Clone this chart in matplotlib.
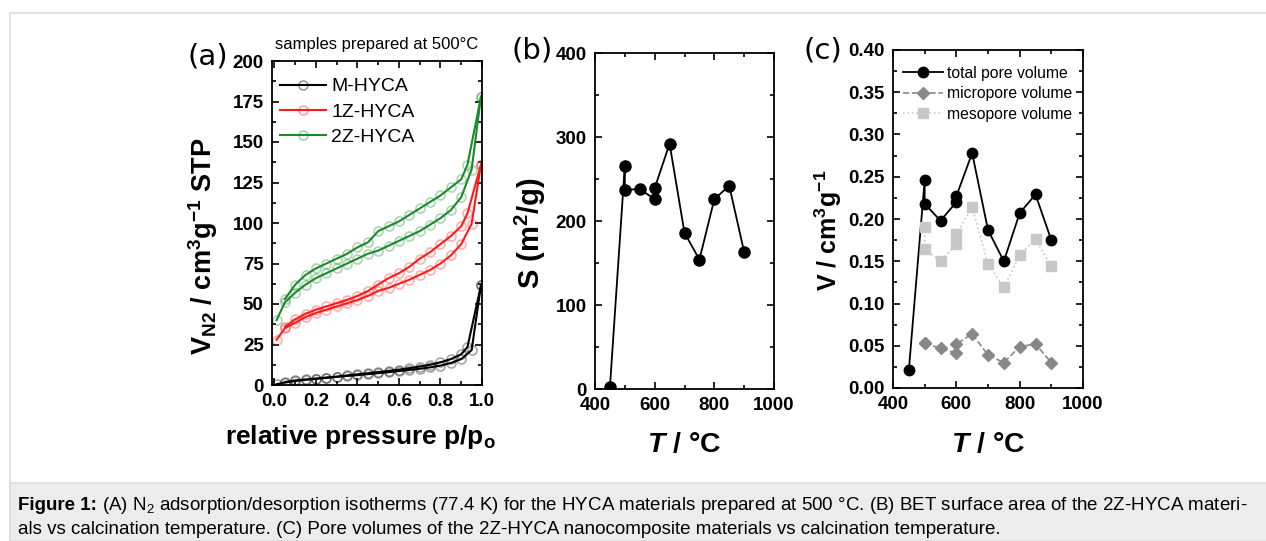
import numpy as np
import matplotlib
matplotlib.use('Agg')
from matplotlib import pyplot as plt
from matplotlib.patches import Rectangle
from matplotlib.ticker import MultipleLocator, FormatStrFormatter

plt.rcParams['font.family'] = ['Liberation Sans', 'DejaVu Sans']
plt.rcParams['mathtext.fontset'] = 'custom'
plt.rcParams['mathtext.rm'] = 'Liberation Sans'
plt.rcParams['mathtext.bf'] = 'Liberation Sans:bold'
plt.rcParams['mathtext.it'] = 'Liberation Sans:bold:italic'
plt.rcParams['mathtext.default'] = 'bf'

# (a) isotherms, adsorption and desorption branches
p_ads = [0.01, 0.05, 0.1, 0.15, 0.2, 0.25, 0.3, 0.35, 0.4, 0.45, 0.5,
         0.55, 0.6, 0.65, 0.7, 0.75, 0.8, 0.85, 0.9, 0.95, 0.995]
p_des = [0.995, 0.93, 0.9, 0.85, 0.8, 0.75, 0.7, 0.65, 0.6, 0.55, 0.5,
         0.45, 0.4, 0.35, 0.3, 0.25, 0.2, 0.15, 0.1, 0.05]

m_ads = [0.5, 1.5, 2.5, 3.2, 3.8, 4.4, 5.0, 5.6, 6.1, 6.7, 7.3,
         7.9, 8.6, 9.3, 10.0, 10.9, 12.0, 13.6, 16.0, 21.5, 61.5]
m_des = [61.5, 23.5, 19.0, 16.0, 14.0, 12.5, 11.4, 10.4, 9.5, 8.7, 8.0,
         7.3, 6.6, 5.9, 5.2, 4.6, 4.0, 3.4, 2.8, 1.8]

z1_ads = [28, 35, 38.5, 42, 44.5, 46.5, 48.5, 50.5, 52.5, 55, 58,
          60, 62.5, 65, 68, 71, 75, 80, 87, 99.5, 136]
z1_des = [136, 106, 98, 92, 87, 82, 78, 73, 69, 66, 62,
          58, 55, 52.5, 50.5, 48.5, 46.5, 44, 40.5, 36]

z2_ads = [40, 51, 57, 62, 66, 69, 72, 75, 78, 81, 83,
          86, 89, 92, 95, 99, 103, 108, 116, 133, 178]
z2_des = [178, 136, 127, 122, 117, 113, 109, 105, 101, 98, 95,
          88, 85, 81, 78, 75, 72, 68, 62, 53]

# (b) BET surface area
T_S = [450, 500, 500, 550, 600, 600, 650, 700, 750, 800, 850, 900]
S = [2, 266, 237, 238, 226, 239, 292, 186, 154, 226, 242, 163]

# (c) pore volumes
T_tot = [450, 500, 500, 550, 600, 600, 650, 700, 750, 800, 850, 900]
V_tot = [0.021, 0.246, 0.218, 0.198, 0.220, 0.227, 0.278, 0.187, 0.150, 0.207, 0.229, 0.175]
T_pore = [500, 500, 550, 600, 600, 650, 700, 750, 800, 850, 900]
V_micro = [0.053, 0.053, 0.047, 0.041, 0.052, 0.064, 0.039, 0.030, 0.049, 0.052, 0.030]
V_meso = [0.191, 0.164, 0.150, 0.170, 0.182, 0.214, 0.147, 0.119, 0.157, 0.176, 0.144]

W, H = 1266, 541
fig = plt.figure(figsize=(W / 100, H / 100), dpi=100)


def px_axes(l, t, r, b):
    return fig.add_axes([l / W, 1 - b / H, (r - l) / W, (b - t) / H])


def style(ax):
    ax.tick_params(which='both', direction='in', top=True, right=True,
                   width=1.2, labelsize=13.5, pad=6)
    ax.tick_params(which='major', length=5)
    ax.tick_params(which='minor', length=3)
    for s in ax.spines.values():
        s.set_linewidth(1.3)
    for lab in ax.get_xticklabels() + ax.get_yticklabels():
        lab.set_fontweight('bold')


def place_labels(ax, xl, yl):
    ax.xaxis.label.set_va('center')
    ax.yaxis.label.set_va('center')
    ax.xaxis.set_label_coords(*xl)
    ax.yaxis.set_label_coords(*yl)


# frame and caption box
fig.patches.append(Rectangle((10 / W, 0), 1.2, 1 - 13 / H, transform=fig.transFigure,
                             fill=False, edgecolor='#dddddd', linewidth=1.2))
fig.patches.append(Rectangle((10 / W, 0), 1.2, 58 / H, transform=fig.transFigure,
                             facecolor='#ececec', edgecolor='#dddddd', linewidth=1.2))

# ---- (a)
ax1 = px_axes(272, 61, 482, 385)
mk = dict(marker='o', mfc='none', ms=6.5, mew=1.2, lw=1.5)
for ads, des, c, name in [(m_ads, m_des, 'black', 'M-HYCA'),
                          (z1_ads, z1_des, '#ff1a1a', '1Z-HYCA'),
                          (z2_ads, z2_des, '#1a8a2a', '2Z-HYCA')]:
    ax1.plot(p_ads, ads, color=c, lw=1.5)
    ax1.plot(p_des, des, color=c, lw=1.5)
    ax1.plot(p_ads, ads, ls='none', color=c, alpha=0.35, **mk)
    ax1.plot(p_des, des, ls='none', color=c, alpha=0.35, **mk)
    ax1.plot([], [], color=c, marker='o', mfc='none', ms=6.5, mew=1.0,
             mec=matplotlib.colors.to_rgba(c, 0.45), lw=1.5, label=name)
ax1.set_xlim(-0.012, 1.0)
ax1.set_ylim(0, 200)
ax1.xaxis.set_major_locator(MultipleLocator(0.2))
ax1.xaxis.set_minor_locator(MultipleLocator(0.1))
ax1.yaxis.set_major_locator(MultipleLocator(25))
ax1.yaxis.set_minor_locator(MultipleLocator(12.5))
ax1.xaxis.set_major_formatter(FormatStrFormatter('%.1f'))
style(ax1)
ax1.legend(loc='upper left', bbox_to_anchor=(0.0, 1 - 9 / 324), borderaxespad=0,
           frameon=False, fontsize=14, handlelength=2.4,
           handletextpad=0.26, labelspacing=0.4)
ax1.set_xlabel(r'relative pressure p/p$_\mathbf{o}$', fontsize=19, fontweight='bold')
ax1.set_ylabel(r'V$_{N2}$ / cm$^3$g$^{-1}$ STP', fontsize=19.5, fontweight='bold')
place_labels(ax1, (0.419, -0.160), (-0.329, 0.429))
fig.text(377 / W, 1 - 44 / H, 'samples prepared at 500°C', fontsize=12,
         ha='center', va='center')

# ---- (b)
ax2 = px_axes(595, 53, 774, 389)
ax2.plot(T_S, S, color='black', marker='o', ms=8, lw=1.3)
ax2.set_xlim(400, 1000)
ax2.set_ylim(0, 400)
ax2.xaxis.set_major_locator(MultipleLocator(200))
ax2.xaxis.set_minor_locator(MultipleLocator(100))
ax2.yaxis.set_major_locator(MultipleLocator(100))
ax2.yaxis.set_minor_locator(MultipleLocator(50))
style(ax2)
ax2.set_xlabel(r'$\mathit{T}$ / °C', fontsize=20.5, fontweight='bold')
ax2.set_ylabel(r'S (m$^2$/g)', fontsize=21, fontweight='bold')
place_labels(ax2, (0.497, -0.167), (-0.363, 0.464))

# ---- (c)
ax3 = px_axes(893, 50, 1083, 388)
ax3.plot(T_tot, V_tot, color='black', marker='o', ms=7.5, lw=1.3, label='total pore volume')
ax3.plot(T_pore, V_micro, color='#888888', marker='D', ms=6.5, lw=1.2, ls='--',
         label='micropore volume')
ax3.plot(T_pore, V_meso, color='#c8c8c8', marker='s', ms=7, lw=1.2, ls=':',
         label='mesopore volume')
ax3.set_xlim(400, 1000)
ax3.set_ylim(0, 0.4)
ax3.xaxis.set_major_locator(MultipleLocator(200))
ax3.xaxis.set_minor_locator(MultipleLocator(100))
ax3.yaxis.set_major_locator(MultipleLocator(0.05))
ax3.yaxis.set_minor_locator(MultipleLocator(0.025))
ax3.yaxis.set_major_formatter(FormatStrFormatter('%.2f'))
style(ax3)
ax3.legend(loc='upper left', bbox_to_anchor=(0.019, 1 - 9.5 / 338), borderaxespad=0,
           frameon=False, fontsize=11.3, handlelength=2.55,
           handletextpad=0.25, labelspacing=0.35)
ax3.set_xlabel(r'$\mathit{T}$ / °C', fontsize=20.5, fontweight='bold')
ax3.set_ylabel(r'V / cm$^3$g$^{-1}$', fontsize=18, fontweight='bold')
place_labels(ax3, (0.5, -0.169), (-0.342, 0.467))

# panel letters
for x, y, s in [(187, 56, '(a)'), (511, 50, '(b)'), (803, 50, '(c)')]:
    fig.text(x / W, 1 - y / H, s, fontsize=21, family='DejaVu Sans', va='center')

# caption
fig.canvas.draw()
r = fig.canvas.get_renderer()
t = fig.text(18 / W, 1 - 506 / H, 'Figure 1:', fontsize=13.5, fontweight='bold', va='center')
bb = t.get_window_extent(r)
fig.text(bb.x1 / W, 1 - 506 / H,
         r' (A) $\mathrm{N_2}$ adsorption/desorption isotherms (77.4 K) for the HYCA materials '
         r'prepared at 500 °C. (B) BET surface area of the 2Z-HYCA materi-',
         fontsize=13.5, va='center')
fig.text(18 / W, 1 - 529 / H,
         'als vs calcination temperature. (C) Pore volumes of the 2Z-HYCA nanocomposite '
         'materials vs calcination temperature.', fontsize=13.5, va='center')

fig.savefig('out.png', dpi=100)
